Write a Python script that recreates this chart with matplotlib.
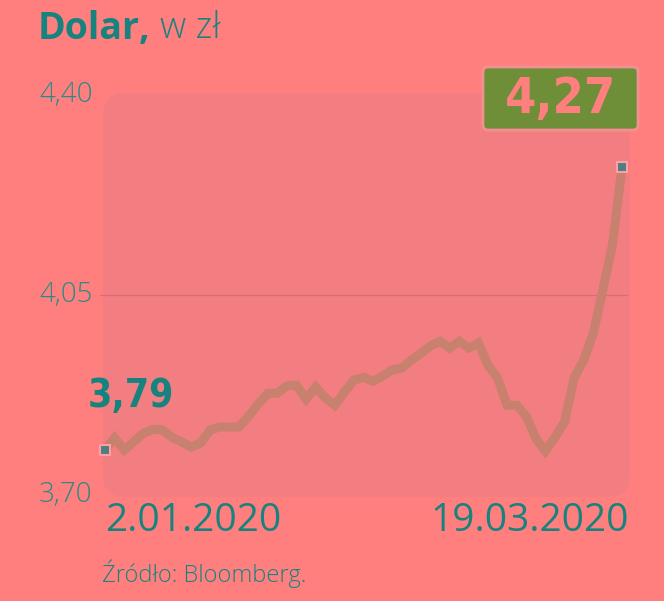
"""Kurs dolara w zł, 2.01.2020 - 19.03.2020"""

import matplotlib
matplotlib.use("Agg")
import matplotlib.pyplot as plt
from matplotlib.patches import FancyBboxPatch

# USD/PLN, one value per trading day
usd_pln = [
    3.779, 3.800, 3.779, 3.793, 3.808, 3.815, 3.814, 3.801, 3.793, 3.784,
    3.791, 3.814, 3.819, 3.819, 3.819, 3.838, 3.859, 3.878, 3.878, 3.891,
    3.892, 3.868, 3.889, 3.870, 3.857, 3.880, 3.901, 3.906, 3.899, 3.908,
    3.919, 3.922, 3.936, 3.948, 3.961, 3.969, 3.957, 3.969, 3.957, 3.966,
    3.927, 3.905, 3.857, 3.857, 3.838, 3.799, 3.777, 3.801, 3.828, 3.905,
    3.936, 3.983, 4.059, 4.137, 4.274,
]
y_ticks = [3.70, 4.05, 4.40]
y_tick_labels = ["3,70", "4,05", "4,40"]
date_labels = ["2.01.2020", "19.03.2020"]
first_label = "3,79"
last_label = "4,27"

BG = "#FF7F7F"
PANEL = "#F27E82"
LINE = "#C8806F"
TEAL = "#17837F"
BOX = "#6E8E38"
W, H = 664, 601

fig = plt.figure(figsize=(W / 100, H / 100), dpi=100, facecolor=BG)

# rounded background panel of the plot area
fig.patches.append(FancyBboxPatch(
    (103 / W, 1 - 497 / H), 527 / W, 404 / H,
    boxstyle="round,pad=0,rounding_size=0.035",
    transform=fig.transFigure, facecolor=PANEL, edgecolor="none", zorder=-1))

ax = fig.add_axes([105 / W, 1 - 495 / H, 517 / W, 400 / H], zorder=2)
ax.set_facecolor("none")
n = len(usd_pln)
x = list(range(n))
ax.set_xlim(0, n - 1)
ax.set_ylim(y_ticks[0], y_ticks[-1])
for s in ax.spines.values():
    s.set_visible(False)
ax.set_xticks([])
ax.set_yticks([])

ax.axhline(y_ticks[1], xmin=-0.01, xmax=1.01, color="#D86E70", lw=0.9, zorder=1,
           clip_on=False)
ax.plot(x, usd_pln, color=LINE, lw=6.5, solid_joinstyle="miter",
        solid_capstyle="butt", zorder=2, clip_on=False)
ax.plot([x[0], x[-1]], [usd_pln[0], usd_pln[-1]], ls="none", marker="s",
        ms=7, mfc="#4D7E86", mec="#FFA0A0", mew=1.5, zorder=3, clip_on=False)

# y labels on the left
for v, lab in zip(y_ticks, y_tick_labels):
    fig.text(39 / W, ax.transData.transform((0, v))[1] / H, lab,
             ha="left", va="center", fontsize=20, color="#2A8A88",
             family="Open Sans", fontweight="light")

# title
fig.text(38 / W, 1 - 29 / H, "Dolar,", ha="left", va="center", fontsize=27,
         color=TEAL, family="Open Sans", fontweight="bold")
fig.text(160 / W, 1 - 29 / H, "w zł", ha="left", va="center", fontsize=26,
         color=TEAL, family="Open Sans", fontweight="light")

# start value
fig.text(88 / W, 1 - 396 / H, first_label, ha="left", va="center", fontsize=28,
         color=TEAL, family="DejaVu Sans", fontstretch="condensed",
         fontweight="bold")

# end value in a box
fig.patches.append(FancyBboxPatch(
    (483 / W, 1 - 130 / H), 155 / W, 63 / H,
    boxstyle="round,pad=0,rounding_size=0.008",
    transform=fig.transFigure, facecolor=BOX, edgecolor="#F09090", lw=2,
    zorder=5))
fig.text(561 / W, 1 - 99 / H, last_label, ha="center", va="center",
         fontsize=36, color=BG, family="DejaVu Sans", fontstretch="condensed",
         fontweight="bold", zorder=6)

# date labels
fig.text(105 / W, 1 - 521 / H, date_labels[0], ha="left", va="center",
         fontsize=28, color=TEAL, family="Open Sans")
fig.text(629 / W, 1 - 521 / H, date_labels[1], ha="right", va="center",
         fontsize=28, color=TEAL, family="Open Sans")

# source
fig.text(102 / W, 1 - 574 / H, "Źródło: Bloomberg.", ha="left", va="center",
         fontsize=17, color=TEAL, family="Open Sans", fontweight="light")

fig.savefig("out.png", dpi=100, facecolor=BG)
